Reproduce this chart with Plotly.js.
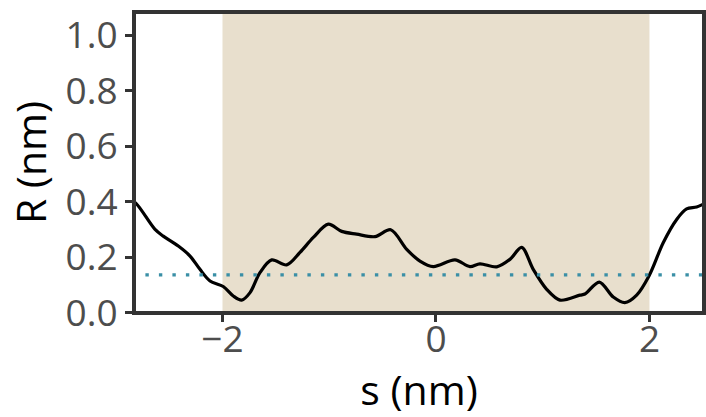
<!DOCTYPE html>
<html>
<head>
<meta charset="utf-8">
<script src="https://cdn.plot.ly/plotly-3.0.1.min.js"></script>
<style>html,body{margin:0;padding:0;background:#fff;}#chart{width:706px;height:417px;}</style>
</head>
<body>
<div id="chart"></div>
<script>
// s (nm) positions along the path
const sValues = [-2.86, -2.810, -2.632, -2.555, -2.414, -2.304, -2.211, -2.117, -1.993, -1.899, -1.820, -1.742, -1.649, -1.539, -1.399, -1.274, -1.149, -1.009, -0.883, -0.743, -0.571, -0.424, -0.274, -0.150, -0.025, 0.178, 0.318, 0.412, 0.569, 0.693, 0.803, 0.911, 1.037, 1.162, 1.349, 1.396, 1.530, 1.661, 1.770, 1.880, 1.998, 2.129, 2.255, 2.348, 2.442, 2.520, 2.56];
// R (nm) radius profile
const rValues = [0.405, 0.394, 0.300, 0.276, 0.240, 0.204, 0.156, 0.114, 0.094, 0.060, 0.045, 0.072, 0.144, 0.190, 0.172, 0.217, 0.271, 0.319, 0.293, 0.283, 0.274, 0.299, 0.228, 0.186, 0.166, 0.190, 0.166, 0.176, 0.165, 0.192, 0.235, 0.156, 0.084, 0.045, 0.063, 0.067, 0.110, 0.056, 0.036, 0.063, 0.134, 0.252, 0.336, 0.374, 0.381, 0.394, 0.40];
// shaded region bounds (nm)
const regionBounds = [-2, 2];
// dotted threshold level (nm)
const thresholdLevel = [0.136];
// axis ticks
const xTicks = [-2, 0, 2];
const yTicks = [0.0, 0.2, 0.4, 0.6, 0.8, 1.0];
const yTickLabels = ["0.0", "0.2", "0.4", "0.6", "0.8", "1.0"];

const fontFam = "'Open Sans', 'Noto Sans', 'DejaVu Sans', sans-serif";

const traces = [{
  x: sValues,
  y: rValues,
  type: 'scatter',
  mode: 'lines',
  line: {color: '#000000', width: 3.2, shape: 'spline', smoothing: 0.9},
  hoverinfo: 'skip',
  showlegend: false
}];

const layout = {
  width: 706,
  height: 417,
  margin: {l: 134, r: 2, t: 12, b: 104, pad: 0},
  paper_bgcolor: '#ffffff',
  plot_bgcolor: '#ffffff',
  showlegend: false,
  xaxis: {
    range: [-2.829, 2.511],
    tickvals: xTicks,
    ticks: 'outside',
    ticklen: 8,
    tickwidth: 3,
    tickcolor: '#333333',
    showgrid: false,
    zeroline: false,
    showline: false,
    ticklabelstandoff: -14,
    tickfont: {family: fontFam, size: 37, color: '#4d4d4d'},
    title: {text: 's (nm)', font: {family: fontFam, size: 41, color: '#000000'}, standoff: 7},
    automargin: false
  },
  yaxis: {
    range: [-0.0015, 1.0845],
    tickvals: yTicks,
    ticktext: yTickLabels,
    ticks: 'outside',
    ticklen: 8,
    tickwidth: 3,
    tickcolor: '#333333',
    showgrid: false,
    zeroline: false,
    showline: false,
    tickfont: {family: fontFam, size: 37, color: '#4d4d4d'},
    title: {text: 'R (nm)', font: {family: fontFam, size: 41, color: '#000000'}, standoff: 6},
    automargin: false
  },
  shapes: [
    {type: 'rect', xref: 'x', yref: 'paper', x0: regionBounds[0], x1: regionBounds[1], y0: 0, y1: 1,
     fillcolor: '#e8dfcd', line: {width: 0}, layer: 'below'},
    {type: 'line', xref: 'paper', yref: 'y', x0: 0.02, x1: 1, y0: thresholdLevel[0], y1: thresholdLevel[0],
     line: {color: '#3a8fa6', width: 3.4, dash: '3.4px,10.1px'}, layer: 'above'},
    {type: 'rect', xref: 'paper', yref: 'paper', x0: 0, x1: 1, y0: 0, y1: 1,
     fillcolor: 'rgba(0,0,0,0)', line: {color: '#333333', width: 4}, layer: 'above'}
  ]
};

Plotly.newPlot('chart', traces, layout, {displayModeBar: false, staticPlot: true});
</script>
</body>
</html>
